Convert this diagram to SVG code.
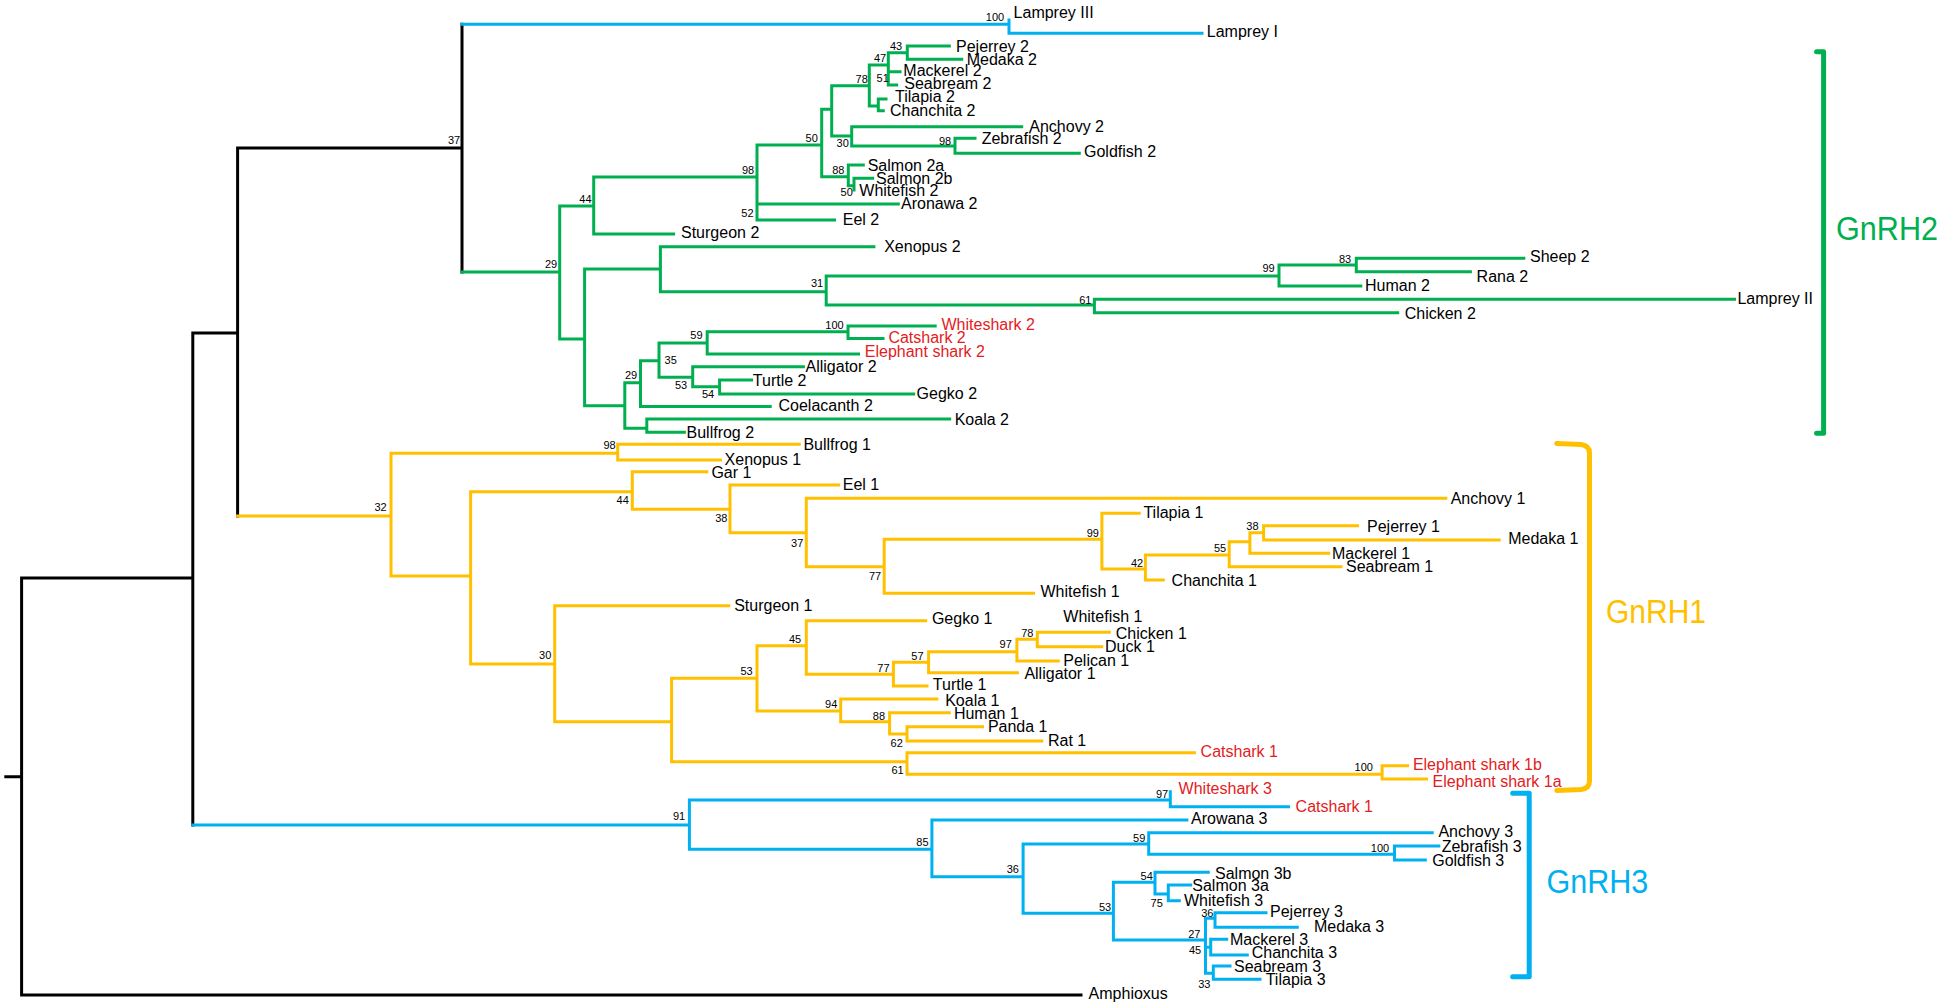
<svg xmlns="http://www.w3.org/2000/svg" width="1944" height="1008" viewBox="0 0 1944 1008">
<style>
.b{fill:none;stroke-width:3;stroke-linecap:square}
.k{stroke:#000}
.g{stroke:#00B050}
.y{stroke:#FFC000}
.c{stroke:#00B0F0}
.br{fill:none;stroke-width:5;stroke-linejoin:round;stroke-linecap:round}
text{font-family:"Liberation Sans",Arial,sans-serif}
.l{font-size:16px;fill:#000}
.r{font-size:16px;fill:#E31B23}
.s{font-size:11px;fill:#000;text-anchor:middle}
.big{font-size:33px}
</style>
<rect width="1944" height="1008" fill="#fff"/>
<g id="connectors">
<path class="b k" d="M5.8 776.7H21.6M21.6 578V995M21.6 578H192.8M21.6 995H1081M192.8 333V825M192.8 333H237.6M237.6 148V516M237.6 148H462M462 24.3V272"/>
<path class="b c" d="M462 24.3H1009M1009 20V33.3M1009 33.3H1202
M192.8 825H689.4M689.4 800V849.3M689.4 800H1170.3M1170.3 791.7V806.7M1170.3 806.7H1288.5
M689.4 849.3H931.9M931.9 820V876.7M931.9 820H1186.9M931.9 876.7H1023.1M1023.1 844V913.3
M1023.1 844H1148.7M1148.7 832.7V854.3M1148.7 832.7H1432.2M1148.7 854.3H1394.5M1394.5 846V860M1394.5 846H1438.8M1394.5 860H1425.3
M1023.1 913.3H1113.4M1113.4 882.3V940M1113.4 882.3H1155M1155 872.3V894M1155 872.3H1208.3M1155 894H1168.3M1168.3 885V900.7M1168.3 885H1190.7M1168.3 900.7H1179.3
M1113.4 940H1205.5M1205.5 918.3V973.3M1205.5 918.3H1215M1215 912.7V927.3M1215 912.7H1266M1215 927.3H1297.3
M1205.5 947.3H1210.7M1210.7 939.3V955M1210.7 939.3H1226.7M1210.7 955H1247.3
M1205.5 973.3H1213.3M1213.3 966V979.3M1213.3 966H1230M1213.3 979.3H1260"/>
<path class="b g" d="M462 272H559.7M559.7 206V339M559.7 206H593.7M593.7 177V234M593.7 177H757M593.7 234H673.6
M757 145V220M757 145H821.7M757 204H898.3M757 220H834.5
M821.7 109.3V176.7M821.7 109.3H831.7M831.7 85.7V136M831.7 85.7H869.3M869.3 65V106M869.3 65H888.3
M888.3 52.7V85M888.3 52.7H907.3M907.3 46V59.3M907.3 46H949.3M907.3 59.3H961.7M888.3 71.7H900M888.3 85H896.7
M869.3 106H878.3M878.3 99V110.7M878.3 99H886M878.3 110.7H883.3
M831.7 136H851.7M851.7 126.7V146M851.7 126.7H1021.7M851.7 146H955M955 138.3V153.3M955 138.3H975M955 153.3H1079.3
M821.7 176.7H848.3M848.3 165V185.7M848.3 165H863.3M848.3 185.7H854M854 178.3V190M854 178.3H872.7
M559.7 339H584.6M584.6 269V405.7M584.6 269H660.4M660.4 246.7V291.7M660.4 246.7H873.9M660.4 291.7H826.2
M826.2 276V305M826.2 276H1279M1279 265V286M1279 265H1356.3M1356.3 258.3V271.7M1356.3 258.3H1523.8M1356.3 271.7H1470.4M1279 286H1360.8
M826.2 305H1094.4M1094.4 299.3V312.7M1094.4 299.3H1734.5M1094.4 312.7H1397.7
M584.6 405.7H624.8M624.8 382.7V428.3M624.8 382.7H640.5M640.5 360.7V406.5M640.5 360.7H659
M659 343V377.3M659 343H707.2M707.2 331.7V354M707.2 331.7H848M848 326V338.5M848 326H935.2M848 338.5H883M707.2 354H858.5
M659 377.3H692.7M692.7 366.7V386.7M692.7 366.7H803.4M692.7 386.7H719.6M719.6 380V394M719.6 380H751.6M719.6 394H913.7
M640.5 406.5H770.2M624.8 428.3H646.8M646.8 419V432.3M646.8 419H949.7M646.8 432.3H684.4"/>
<path class="b y" d="M237.6 516H391M391 453.3V576M391 453.3H617.7M617.7 444.3V460M617.7 444.3H799.3M617.7 460H720.5
M391 576H470.6M470.6 491.7V664M470.6 491.7H632.3M632.3 471.7V509.3M632.3 471.7H706.8M632.3 509.3H730
M730 485V532.7M730 485H838.6M730 532.7H806.3M806.3 498.3V566.7M806.3 498.3H1445.8M806.3 566.7H884.2
M884.2 539.3V593.3M884.2 539.3H1101.9M1101.9 513.3V569M1101.9 513.3H1139.2M1101.9 569H1145.4
M1145.4 555V580M1145.4 555H1229.2M1145.4 580H1163.3M1229.2 541.7V566.7M1229.2 541.7H1249.9M1229.2 566.7H1341
M1249.9 532.7V553.3M1249.9 532.7H1263.6M1249.9 553.3H1328.7M1263.6 525.7V540M1263.6 525.7H1357.5M1263.6 540H1499.2
M884.2 593.3H1033.5
M470.6 664H554.7M554.7 605.7V721.7M554.7 605.7H728.8M554.7 721.7H671.6M671.6 678.3V761.7M671.6 678.3H757
M757 645.7V711M757 645.7H806.3M806.3 620.7V674.3M806.3 620.7H925.7M806.3 674.3H893.4
M893.4 662.3V686M893.4 662.3H928.6M893.4 686H927M928.6 651.7V672.7M928.6 651.7H1016.9M928.6 672.7H1017.5
M1016.9 639.3V661M1016.9 639.3H1037.3M1016.9 661H1058.3M1037.3 632.3V646.7M1037.3 632.3H1109.3M1037.3 646.7H1101.7
M757 711H840.7M840.7 699V721.7M840.7 699H936.9M840.7 721.7H889.6M889.6 712.7V734M889.6 712.7H949.3M889.6 734H907
M907 726.7V741M907 726.7H982.5M907 741H1041.8
M671.6 761.7H907M907 752.7V774.3M907 752.7H1194.4M907 774.3H1382.1M1382.1 765.7V779M1382.1 765.7H1407.6M1382.1 779H1426.5"/>
</g>
<g id="support-values" class="sv">
<text class="s" x="454" y="144">37</text>
<text class="s" x="995" y="20.7">100</text>
<text class="s" x="551" y="268">29</text>
<text class="s" x="585.4" y="203.3">44</text>
<text class="s" x="748" y="174">98</text>
<text class="s" x="811.7" y="142.3">50</text>
<text class="s" x="861.7" y="83.3">78</text>
<text class="s" x="880" y="62.3">47</text>
<text class="s" x="896" y="50">43</text>
<text class="s" x="882.7" y="82.3">51</text>
<text class="s" x="842.7" y="147.3">30</text>
<text class="s" x="945" y="144.7">98</text>
<text class="s" x="838.3" y="174">88</text>
<text class="s" x="846.7" y="196.3">50</text>
<text class="s" x="747.4" y="216.7">52</text>
<text class="s" x="817" y="286.7">31</text>
<text class="s" x="1268.6" y="272.3">99</text>
<text class="s" x="1345" y="263">83</text>
<text class="s" x="1085.3" y="304">61</text>
<text class="s" x="834.5" y="329">100</text>
<text class="s" x="696.4" y="339">59</text>
<text class="s" x="670.7" y="364">35</text>
<text class="s" x="631" y="379">29</text>
<text class="s" x="681" y="389">53</text>
<text class="s" x="708" y="398">54</text>
<text class="s" x="380.6" y="510.7">32</text>
<text class="s" x="609.5" y="449.3">98</text>
<text class="s" x="622.7" y="504">44</text>
<text class="s" x="721.3" y="522.3">38</text>
<text class="s" x="797.2" y="546.7">37</text>
<text class="s" x="875.1" y="580">77</text>
<text class="s" x="1092.8" y="536.7">99</text>
<text class="s" x="1137.1" y="566.7">42</text>
<text class="s" x="1220" y="552.3">55</text>
<text class="s" x="1252.4" y="530">38</text>
<text class="s" x="545.2" y="659">30</text>
<text class="s" x="795.1" y="643">45</text>
<text class="s" x="746.6" y="675">53</text>
<text class="s" x="883.4" y="671.7">77</text>
<text class="s" x="917.4" y="660">57</text>
<text class="s" x="1005.7" y="648">97</text>
<text class="s" x="1027.3" y="637.3">78</text>
<text class="s" x="831.2" y="708">94</text>
<text class="s" x="878.9" y="720">88</text>
<text class="s" x="896.7" y="746.7">62</text>
<text class="s" x="897.5" y="774">61</text>
<text class="s" x="1363.7" y="770.7">100</text>
<text class="s" x="679" y="820">91</text>
<text class="s" x="1162" y="798">97</text>
<text class="s" x="922.4" y="846.3">85</text>
<text class="s" x="1012.8" y="873.3">36</text>
<text class="s" x="1139.2" y="842.3">59</text>
<text class="s" x="1380" y="852.3">100</text>
<text class="s" x="1105" y="910.7">53</text>
<text class="s" x="1146.7" y="880">54</text>
<text class="s" x="1156.7" y="907.3">75</text>
<text class="s" x="1194.3" y="938.3">27</text>
<text class="s" x="1207.3" y="916.7">36</text>
<text class="s" x="1195" y="954">45</text>
<text class="s" x="1204.3" y="988">33</text>
</g>
<g id="leaf-lamprey-iii"><text class="l" x="1013.6" y="17.5">Lamprey III</text></g>
<g id="leaf-lamprey-i"><text class="l" x="1206.8" y="36.5">Lamprey I</text></g>
<g id="leaf-pejerrey-2"><text class="l" x="956" y="51.5">Pejerrey 2</text></g>
<g id="leaf-medaka-2"><text class="l" x="966.7" y="64.8">Medaka 2</text></g>
<g id="leaf-mackerel-2"><text class="l" x="903.3" y="75.5">Mackerel 2</text></g>
<g id="leaf-seabream-2"><text class="l" x="904.3" y="88.8">Seabream 2</text></g>
<g id="leaf-tilapia-2"><text class="l" x="895" y="102.2">Tilapia 2</text></g>
<g id="leaf-chanchita-2"><text class="l" x="890" y="115.5">Chanchita 2</text></g>
<g id="leaf-anchovy-2"><text class="l" x="1029.3" y="131.5">Anchovy 2</text></g>
<g id="leaf-zebrafish-2"><text class="l" x="981.7" y="143.8">Zebrafish 2</text></g>
<g id="leaf-goldfish-2"><text class="l" x="1084" y="157.2">Goldfish 2</text></g>
<g id="leaf-salmon-2a"><text class="l" x="867.7" y="170.5">Salmon 2a</text></g>
<g id="leaf-salmon-2b"><text class="l" x="876" y="183.8">Salmon 2b</text></g>
<g id="leaf-whitefish-2"><text class="l" x="859.3" y="195.5">Whitefish 2</text></g>
<g id="leaf-aronawa-2"><text class="l" x="901" y="208.5">Aronawa 2</text></g>
<g id="leaf-eel-2"><text class="l" x="842.8" y="224.5">Eel 2</text></g>
<g id="leaf-sturgeon-2"><text class="l" x="681" y="238.2">Sturgeon 2</text></g>
<g id="leaf-xenopus-2"><text class="l" x="884.2" y="252.2">Xenopus 2</text></g>
<g id="leaf-sheep-2"><text class="l" x="1530" y="262.2">Sheep 2</text></g>
<g id="leaf-rana-2"><text class="l" x="1476.6" y="282.2">Rana 2</text></g>
<g id="leaf-human-2"><text class="l" x="1365" y="291.2">Human 2</text></g>
<g id="leaf-lamprey-ii"><text class="l" x="1737.4" y="303.5">Lamprey II</text></g>
<g id="leaf-chicken-2"><text class="l" x="1404.7" y="318.8">Chicken 2</text></g>
<g id="leaf-whiteshark-2"><text class="r" x="941.5" y="329.5">Whiteshark 2</text></g>
<g id="leaf-catshark-2"><text class="r" x="888.4" y="343">Catshark 2</text></g>
<g id="leaf-elephant-shark-2"><text class="r" x="864.8" y="357.2">Elephant shark 2</text></g>
<g id="leaf-alligator-2"><text class="l" x="805.5" y="371.5">Alligator 2</text></g>
<g id="leaf-turtle-2"><text class="l" x="752.8" y="385.5">Turtle 2</text></g>
<g id="leaf-gegko-2"><text class="l" x="916.6" y="398.8">Gegko 2</text></g>
<g id="leaf-coelacanth-2"><text class="l" x="778.5" y="411.2">Coelacanth 2</text></g>
<g id="leaf-koala-2"><text class="l" x="954.7" y="424.5">Koala 2</text></g>
<g id="leaf-bullfrog-2"><text class="l" x="686.5" y="437.8">Bullfrog 2</text></g>
<g id="leaf-bullfrog-1"><text class="l" x="803.4" y="449.8">Bullfrog 1</text></g>
<g id="leaf-xenopus-1"><text class="l" x="724.6" y="464.8">Xenopus 1</text></g>
<g id="leaf-gar-1"><text class="l" x="711.4" y="477.8">Gar 1</text></g>
<g id="leaf-eel-1"><text class="l" x="842.8" y="489.5">Eel 1</text></g>
<g id="leaf-anchovy-1"><text class="l" x="1450.7" y="503.8">Anchovy 1</text></g>
<g id="leaf-tilapia-1"><text class="l" x="1143.4" y="517.8">Tilapia 1</text></g>
<g id="leaf-pejerrey-1"><text class="l" x="1367" y="531.5">Pejerrey 1</text></g>
<g id="leaf-medaka-1"><text class="l" x="1508.2" y="543.8">Medaka 1</text></g>
<g id="leaf-mackerel-1"><text class="l" x="1332" y="558.8">Mackerel 1</text></g>
<g id="leaf-seabream-1"><text class="l" x="1346" y="571.5">Seabream 1</text></g>
<g id="leaf-chanchita-1"><text class="l" x="1171.6" y="585.5">Chanchita 1</text></g>
<g id="leaf-whitefish-1a"><text class="l" x="1040.5" y="597.2">Whitefish 1</text></g>
<g id="leaf-sturgeon-1"><text class="l" x="734.2" y="611.2">Sturgeon 1</text></g>
<g id="leaf-whitefish-1b"><text class="l" x="1063.3" y="622.2">Whitefish 1</text></g>
<g id="leaf-gegko-1"><text class="l" x="931.9" y="623.8">Gegko 1</text></g>
<g id="leaf-chicken-1"><text class="l" x="1115.7" y="638.8">Chicken 1</text></g>
<g id="leaf-duck-1"><text class="l" x="1105" y="651.5">Duck 1</text></g>
<g id="leaf-pelican-1"><text class="l" x="1063.3" y="665.5">Pelican 1</text></g>
<g id="leaf-alligator-1"><text class="l" x="1024.4" y="678.8">Alligator 1</text></g>
<g id="leaf-turtle-1"><text class="l" x="932.8" y="689.5">Turtle 1</text></g>
<g id="leaf-koala-1"><text class="l" x="945.2" y="706.2">Koala 1</text></g>
<g id="leaf-human-1"><text class="l" x="953.9" y="718.8">Human 1</text></g>
<g id="leaf-panda-1"><text class="l" x="987.9" y="732.2">Panda 1</text></g>
<g id="leaf-rat-1"><text class="l" x="1048" y="746.2">Rat 1</text></g>
<g id="leaf-catshark-1-gnrh1"><text class="r" x="1200.6" y="757.2">Catshark 1</text></g>
<g id="leaf-elephant-shark-1b"><text class="r" x="1412.9" y="769.8">Elephant shark 1b</text></g>
<g id="leaf-elephant-shark-1a"><text class="r" x="1432.6" y="786.5">Elephant shark 1a</text></g>
<g id="leaf-whiteshark-3"><text class="r" x="1178.6" y="793.8">Whiteshark 3</text></g>
<g id="leaf-catshark-1-gnrh3"><text class="r" x="1295.6" y="811.5">Catshark 1</text></g>
<g id="leaf-arowana-3"><text class="l" x="1191" y="823.8">Arowana 3</text></g>
<g id="leaf-anchovy-3"><text class="l" x="1438.4" y="837.2">Anchovy 3</text></g>
<g id="leaf-zebrafish-3"><text class="l" x="1441.7" y="851.5">Zebrafish 3</text></g>
<g id="leaf-goldfish-3"><text class="l" x="1432.2" y="865.5">Goldfish 3</text></g>
<g id="leaf-salmon-3b"><text class="l" x="1215" y="878.8">Salmon 3b</text></g>
<g id="leaf-salmon-3a"><text class="l" x="1192.3" y="890.5">Salmon 3a</text></g>
<g id="leaf-whitefish-3"><text class="l" x="1184" y="905.5">Whitefish 3</text></g>
<g id="leaf-pejerrey-3"><text class="l" x="1270" y="917.2">Pejerrey 3</text></g>
<g id="leaf-medaka-3"><text class="l" x="1314" y="932.2">Medaka 3</text></g>
<g id="leaf-mackerel-3"><text class="l" x="1230" y="944.5">Mackerel 3</text></g>
<g id="leaf-chanchita-3"><text class="l" x="1251.7" y="957.8">Chanchita 3</text></g>
<g id="leaf-seabream-3"><text class="l" x="1234" y="972.2">Seabream 3</text></g>
<g id="leaf-tilapia-3"><text class="l" x="1265.7" y="984.8">Tilapia 3</text></g>
<g id="leaf-amphioxus"><text class="l" x="1088.6" y="998.8">Amphioxus</text></g>
<g id="clade-gnrh2">
<path class="br" stroke="#00B050" d="M1816.6 51.7H1823.6V433.3H1816.6"/>
<text class="big" x="1836" y="240" fill="#00B050" textLength="102" lengthAdjust="spacingAndGlyphs">GnRH2</text>
</g>
<g id="clade-gnrh1">
<path class="br" stroke="#FFC000" d="M1556.7 443.5L1581 444.5Q1589.5 445.5 1589.5 453V781Q1589.5 788.5 1581 789.5L1556.7 790.5"/>
<text class="big" x="1606" y="622.7" fill="#FFC000" textLength="100" lengthAdjust="spacingAndGlyphs">GnRH1</text>
</g>
<g id="clade-gnrh3">
<path class="br" stroke="#00B0F0" d="M1512.7 793.3H1529.2V976.7H1512.7"/>
<text class="big" x="1546.4" y="893.3" fill="#00B0F0" textLength="102" lengthAdjust="spacingAndGlyphs">GnRH3</text>
</g>
</svg>
